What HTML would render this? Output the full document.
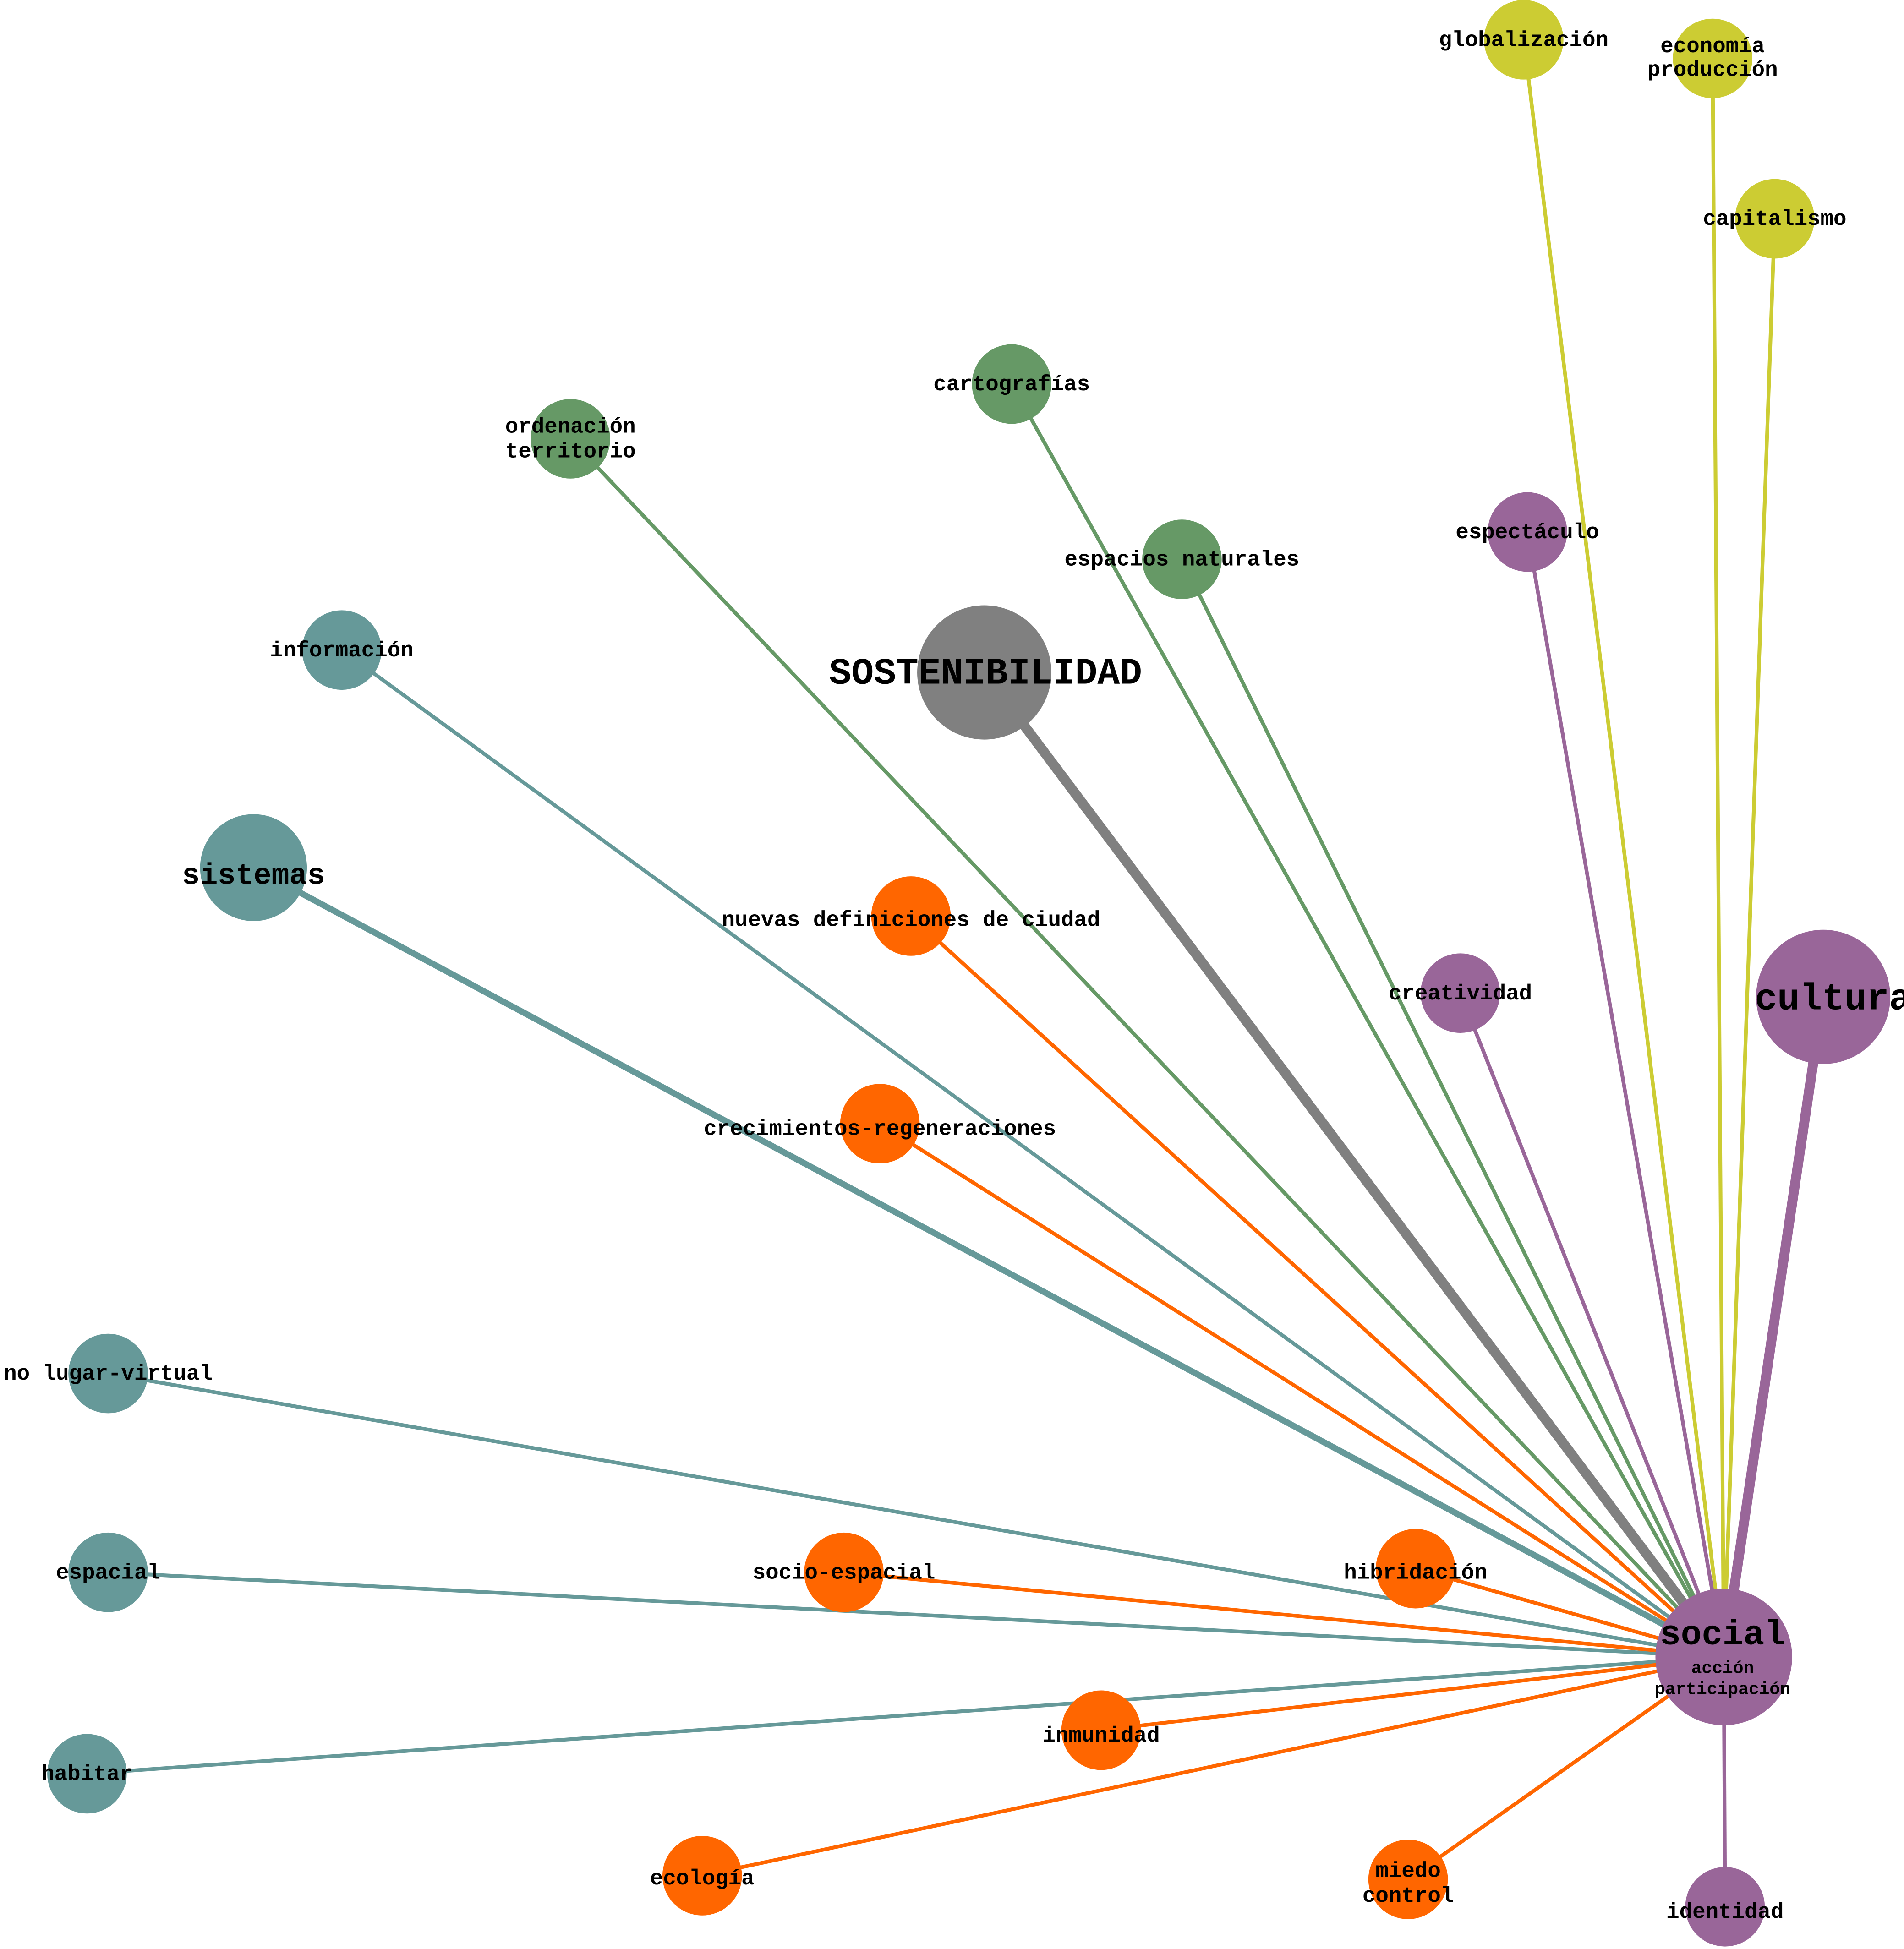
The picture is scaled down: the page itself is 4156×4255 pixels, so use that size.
<!DOCTYPE html>
<html><head><meta charset="utf-8"><style>html,body{margin:0;padding:0;background:#fff;overflow:hidden}svg{display:block}text{font-family:"Liberation Mono","Courier New",monospace;font-weight:bold;fill:#000;text-anchor:middle}</style></head><body>
<svg width="4156" height="4255" viewBox="0 0 1532 1568" preserveAspectRatio="none" xmlns="http://www.w3.org/2000/svg">
<g stroke-linecap="butt" fill="none">
<line x1="87" y1="1105" x2="1387" y2="1333" stroke="#669999" stroke-width="3"/>
<line x1="87" y1="1265" x2="1387" y2="1333" stroke="#669999" stroke-width="3"/>
<line x1="70" y1="1427" x2="1387" y2="1333" stroke="#669999" stroke-width="3"/>
<line x1="275" y1="523" x2="1387" y2="1333" stroke="#669999" stroke-width="3"/>
<line x1="204" y1="698" x2="1387" y2="1333" stroke="#669999" stroke-width="5"/>
<line x1="459" y1="353" x2="1387" y2="1333" stroke="#669966" stroke-width="3"/>
<line x1="814" y1="309" x2="1387" y2="1333" stroke="#669966" stroke-width="3"/>
<line x1="951" y1="450" x2="1387" y2="1333" stroke="#669966" stroke-width="3"/>
<line x1="792" y1="541" x2="1387" y2="1333" stroke="#808080" stroke-width="8"/>
<line x1="1226" y1="32" x2="1387" y2="1333" stroke="#cccc33" stroke-width="3"/>
<line x1="1378" y1="47" x2="1387" y2="1333" stroke="#cccc33" stroke-width="3"/>
<line x1="1428" y1="176" x2="1387" y2="1333" stroke="#cccc33" stroke-width="3"/>
<line x1="1229" y1="428" x2="1387" y2="1333" stroke="#996699" stroke-width="3"/>
<line x1="1175" y1="799" x2="1387" y2="1333" stroke="#996699" stroke-width="3"/>
<line x1="1388" y1="1534" x2="1387" y2="1333" stroke="#996699" stroke-width="3"/>
<line x1="1467" y1="802" x2="1387" y2="1333" stroke="#996699" stroke-width="8"/>
<line x1="733" y1="737" x2="1387" y2="1333" stroke="#ff6600" stroke-width="3"/>
<line x1="708" y1="904" x2="1387" y2="1333" stroke="#ff6600" stroke-width="3"/>
<line x1="679" y1="1265" x2="1387" y2="1333" stroke="#ff6600" stroke-width="3"/>
<line x1="1139" y1="1262" x2="1387" y2="1333" stroke="#ff6600" stroke-width="3"/>
<line x1="886" y1="1392" x2="1387" y2="1333" stroke="#ff6600" stroke-width="3"/>
<line x1="565" y1="1509" x2="1387" y2="1333" stroke="#ff6600" stroke-width="3"/>
<line x1="1133" y1="1512" x2="1387" y2="1333" stroke="#ff6600" stroke-width="3"/>
</g>
<g>
<circle cx="87" cy="1105" r="32" fill="#669999"/>
<circle cx="87" cy="1265" r="32" fill="#669999"/>
<circle cx="70" cy="1427" r="32" fill="#669999"/>
<circle cx="275" cy="523" r="32" fill="#669999"/>
<circle cx="204" cy="698" r="43" fill="#669999"/>
<circle cx="459" cy="353" r="32" fill="#669966"/>
<circle cx="814" cy="309" r="32" fill="#669966"/>
<circle cx="951" cy="450" r="32" fill="#669966"/>
<circle cx="792" cy="541" r="54" fill="#808080"/>
<circle cx="1226" cy="32" r="32" fill="#cccc33"/>
<circle cx="1378" cy="47" r="32" fill="#cccc33"/>
<circle cx="1428" cy="176" r="32" fill="#cccc33"/>
<circle cx="1229" cy="428" r="32" fill="#996699"/>
<circle cx="1175" cy="799" r="32" fill="#996699"/>
<circle cx="1388" cy="1534" r="32" fill="#996699"/>
<circle cx="1467" cy="802" r="54" fill="#996699"/>
<circle cx="1387" cy="1333" r="55" fill="#996699"/>
<circle cx="733" cy="737" r="32" fill="#ff6600"/>
<circle cx="708" cy="904" r="32" fill="#ff6600"/>
<circle cx="679" cy="1265" r="32" fill="#ff6600"/>
<circle cx="1139" cy="1262" r="32" fill="#ff6600"/>
<circle cx="886" cy="1392" r="32" fill="#ff6600"/>
<circle cx="565" cy="1509" r="32" fill="#ff6600"/>
<circle cx="1133" cy="1512" r="32" fill="#ff6600"/>
</g>
<g font-size="17.5">
<text x="87" y="1110">no lugar-virtual</text>
<text x="87" y="1270">espacial</text>
<text x="70" y="1432">habitar</text>
<text x="275" y="528">información</text>
<text x="459" y="348">ordenación</text>
<text x="459" y="368">territorio</text>
<text x="814" y="314">cartografías</text>
<text x="951" y="455">espacios naturales</text>
<text x="1226" y="37">globalización</text>
<text x="1378" y="42">economía</text>
<text x="1378" y="61">producción</text>
<text x="1428" y="181">capitalismo</text>
<text x="1229" y="433">espectáculo</text>
<text x="1175" y="804">creatividad</text>
<text x="1388" y="1543">identidad</text>
<text x="733" y="745">nuevas definiciones de ciudad</text>
<text x="708" y="913">crecimientos-regeneraciones</text>
<text x="679" y="1270">socio-espacial</text>
<text x="1139" y="1270">hibridación</text>
<text x="886" y="1401">inmunidad</text>
<text x="565" y="1516">ecología</text>
<text x="1133" y="1510">miedo</text>
<text x="1133" y="1530">control</text>
<text x="1386" y="1346" font-size="14">acción</text>
<text x="1386" y="1363" font-size="14">participación</text>
</g>
<text x="204" y="711" font-size="24">sistemas</text>
<text x="793" y="550" font-size="30">SOSTENIBILIDAD</text>
<text x="1475" y="812" font-size="30">cultura</text>
<text x="1386" y="1323" font-size="28">social</text>
</svg>
</body></html>
